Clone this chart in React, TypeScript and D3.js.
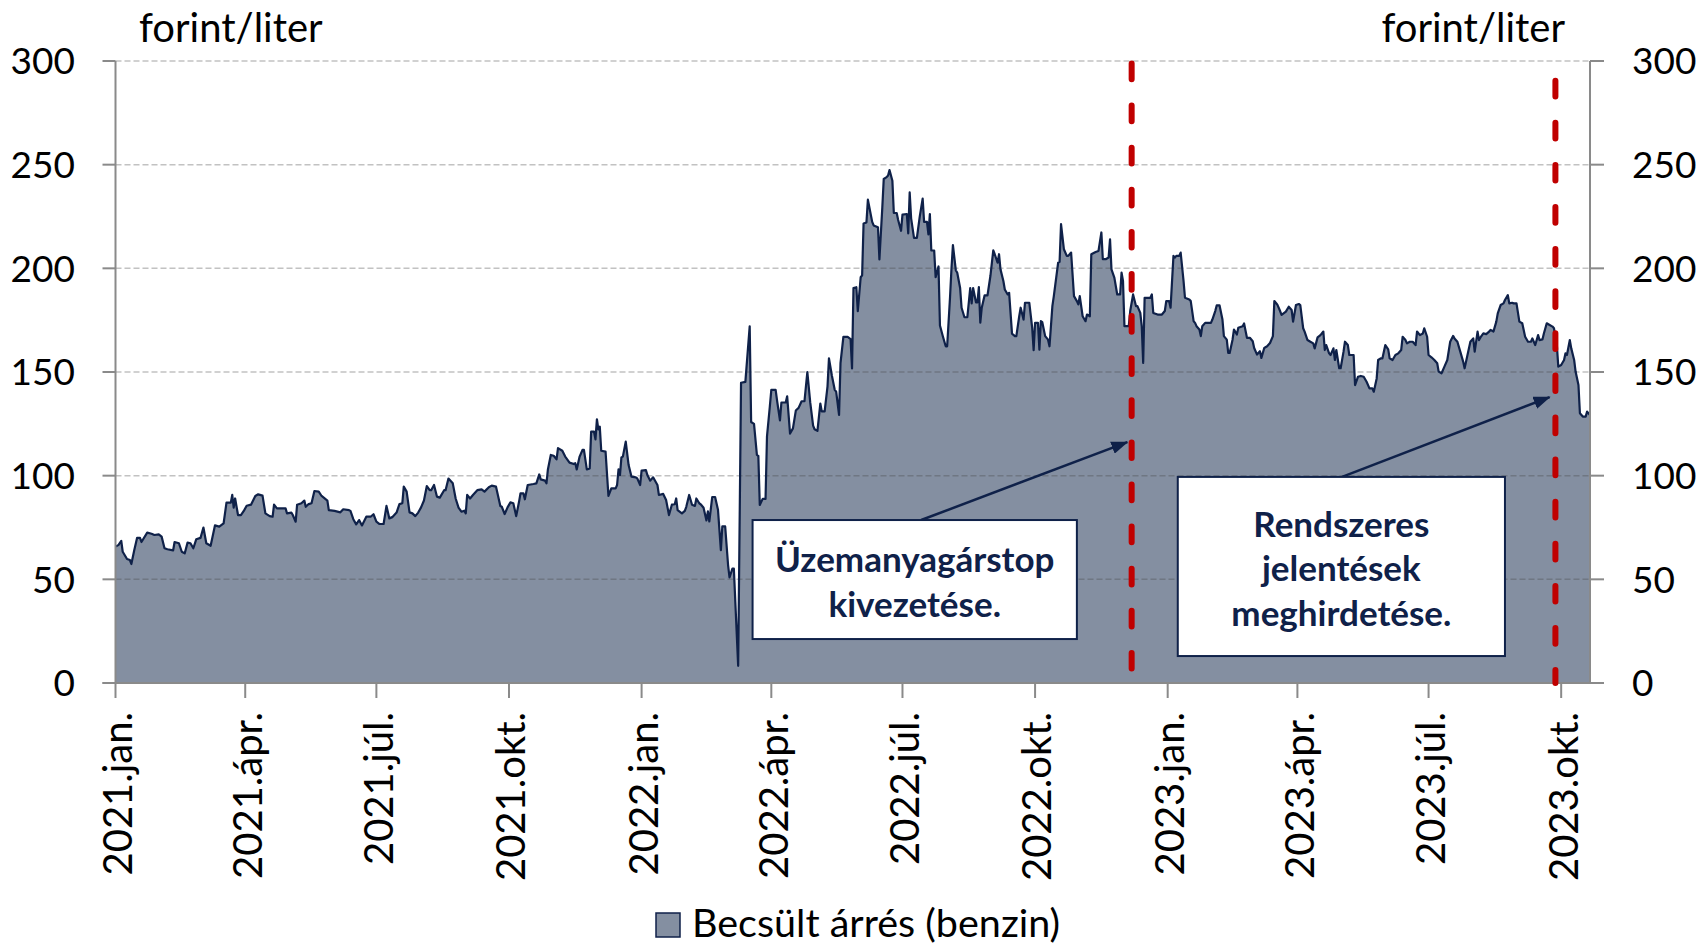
import { useEffect, useRef } from "react";
import * as d3 from "d3";

// days counted from 2021-01-01, estimated margin in forint/liter
const startDate = new Date(2021, 0, 1);
const lastDay = 1023;

const marginSeries: [number, number][] = [
  [0, 65.8], [2, 66.5], [4, 68.5], [5, 63.3], [8, 59.8], [10, 59.3], [11, 57.4], [13, 64], [15, 70], [17, 70],
  [18, 68], [22, 72.5], [25, 72], [27, 71.4], [30, 71.7], [32, 70.6], [34, 65], [36, 64.5], [40, 64], [41, 68],
  [44, 67.4], [46, 63.3], [48, 62.5], [50, 67.7], [52, 67.4], [54, 65], [56, 69.3], [59, 70], [61, 75], [63, 67.4],
  [66, 66.2], [69, 76], [72, 75.4], [75, 77], [77, 87], [80, 87], [81, 90.7], [82, 84.6], [83, 89], [85, 81],
  [87, 81], [89, 83], [91, 85.5], [94, 86], [97, 90.2], [99, 91], [102, 90.4], [104, 81.8], [107, 80.5], [109, 80.2],
  [110, 86], [112, 84.2], [115, 84.2], [118, 84.2], [119, 81.8], [122, 82.2], [123, 81], [125, 77.8], [126, 86], [129, 86.7],
  [131, 88], [132, 85], [134, 86.3], [136, 86.7], [138, 92.6], [141, 92.3], [143, 90.2], [147, 88], [148, 83.4], [152, 83],
  [156, 82.3], [158, 83.8], [162, 83.4], [163, 83], [165, 79], [167, 76.5], [169, 78.6], [171, 76], [174, 80.2], [177, 80.2],
  [179, 81.4], [181, 77.8], [183, 76.7], [186, 76.7], [188, 85.4], [190, 79.4], [192, 80], [195, 82.2], [197, 86.3], [199, 86.7],
  [200, 94.7], [202, 92.3], [204, 82.3], [206, 81.8], [208, 80.5], [210, 82.2], [212, 84.7], [214, 88], [216, 95], [218, 93],
  [219, 93], [221, 95.5], [223, 89.9], [225, 89.4], [228, 93], [229, 93], [231, 98.6], [234, 96.3], [236, 89], [238, 84.6],
  [240, 82.6], [242, 83.1], [243, 81.8], [244, 90.7], [246, 89], [248, 90.7], [251, 93], [254, 93.4], [256, 92.3], [259, 94.4],
  [261, 95.2], [264, 94.7], [267, 85.4], [268, 85], [270, 81.5], [272, 84.7], [274, 87.1], [276, 86.7], [278, 80.5], [280, 87.5],
  [281, 91.5], [283, 91.5], [284, 88.6], [286, 95.5], [290, 96], [292, 96.3], [294, 100.6], [295, 98.2], [298, 97.6], [299, 96.3],
  [300, 103], [302, 110], [304, 109.6], [306, 107.9], [307, 113.3], [310, 112], [312, 109.2], [315, 106.3], [318, 105.6], [319, 106],
  [320, 103], [322, 109.2], [324, 112.4], [325, 112.4], [327, 103], [329, 103.5], [330, 121.2], [332, 121.2], [333, 117.5], [334, 127.2],
  [335, 122.3], [336, 123.6], [337, 112], [340, 111.6], [342, 90.2], [344, 93.9], [347, 93.9], [348, 95.5], [349, 103], [350, 100.3],
  [351, 108.8], [352, 109.2], [354, 116.4], [356, 105.1], [358, 99.5], [361, 99.2], [362, 98.7], [364, 95.5], [365, 102.4], [368, 102.7],
  [369, 100.3], [371, 97.6], [373, 99.2], [376, 95.5], [377, 90.7], [380, 91.2], [382, 88.3], [384, 81], [386, 86], [388, 86.2],
  [389, 89], [390, 83.4], [393, 81.8], [395, 83], [396, 85], [398, 90.7], [400, 86], [402, 85.4], [403, 89], [405, 86.7],
  [406, 86.2], [408, 84.5], [410, 78.4], [411, 82.8], [412, 77.9], [414, 89.7], [416, 89.7], [418, 83.6], [420, 64.1], [421, 75.5],
  [423, 75.5], [425, 56.9], [426, 50.9], [428, 55.2], [429, 55.2], [432, 8.3], [434, 144.8], [437, 145.2], [440, 172], [441, 125.9],
  [443, 125], [445, 110], [446, 109.5], [447, 85.9], [449, 88.8], [451, 88.8], [452, 119], [454, 133.6], [455, 141.4], [458, 141.4],
  [459, 136.2], [461, 126.7], [462, 135.3], [465, 135.3], [466, 138.3], [468, 120.3], [470, 122.8], [472, 131.4], [474, 132.8], [476, 135.9],
  [478, 135.9], [480, 150], [482, 135.3], [484, 124.1], [485, 122.4], [487, 121.6], [489, 134.8], [490, 131], [492, 131], [494, 143.1],
  [495, 156.6], [497, 148.3], [499, 141.4], [500, 140.5], [502, 129.3], [503, 154.3], [505, 166.9], [508, 166.9], [510, 165.9], [511, 151.7],
  [512, 190.5], [514, 190.9], [515, 179.3], [517, 195.7], [518, 196.6], [519, 221.6], [521, 222.1], [522, 233.1], [525, 222.4], [526, 220.7],
  [529, 219.8], [530, 204.3], [532, 229.3], [533, 243.1], [535, 244], [536, 244.8], [537, 247.4], [539, 242.2], [540, 226.7], [542, 226.7],
  [543, 223.3], [545, 218.1], [546, 225.9], [549, 226.2], [550, 216.9], [551, 236.6], [552, 224.1], [554, 214.7], [556, 214.7], [558, 225],
  [560, 233.6], [561, 222.4], [563, 222.4], [564, 216.4], [565, 226.2], [566, 208.6], [568, 208.6], [569, 195.7], [571, 200.9], [572, 172.4],
  [574, 167.2], [576, 162.4], [577, 162.4], [579, 186.2], [580, 200], [581, 211.2], [583, 199.1], [584, 197.9], [586, 190.5], [587, 181],
  [589, 176.4], [591, 176.4], [593, 190.5], [594, 183.1], [595, 190.5], [597, 183.6], [598, 183.6], [599, 191], [600, 173.8], [601, 181],
  [603, 187], [605, 187], [607, 196.3], [609, 208.7], [610, 206.8], [612, 202.7], [613, 206.8], [614, 199.5], [616, 193.9], [617, 189.8],
  [619, 187.4], [620, 188.2], [622, 168.5], [624, 167.3], [625, 167.3], [627, 176.9], [628, 181], [630, 175.3], [631, 183.4], [634, 183.4],
  [636, 171.3], [637, 160.5], [638, 173.7], [640, 173.7], [641, 160.8], [642, 174.5], [643, 174], [645, 167.3], [647, 165.6], [648, 162.4],
  [650, 181.8], [651, 186.6], [654, 202.7], [655, 203.1], [656, 221.3], [658, 209.2], [660, 206], [661, 206], [663, 207.6], [665, 186.6],
  [667, 184.2], [668, 182.6], [669, 186.6], [671, 176.9], [673, 174.5], [674, 177.7], [676, 176.9], [677, 206.8], [680, 207.9], [682, 208.4],
  [684, 217.3], [685, 204.4], [687, 204.4], [689, 205.2], [690, 214], [691, 199.5], [693, 195.5], [695, 187.4], [697, 187.4], [698, 197.9],
  [699, 193.9], [700, 172.1], [702, 172.1], [703, 172.1], [704, 179.4], [706, 187.4], [708, 181.8], [709, 181.8], [711, 178.5], [712, 172.1],
  [713, 154.4], [714, 185.8], [716, 185.8], [718, 185.8], [719, 187.4], [720, 178.5], [723, 177.7], [726, 177.7], [728, 179.4], [729, 184.2],
  [731, 184.2], [732, 181], [734, 206], [735, 205.2], [736, 206], [738, 206], [739, 207.6], [741, 193.9], [742, 185.8], [745, 185],
  [746, 184.2], [748, 174.5], [749, 173.7], [750, 172.1], [752, 170.5], [753, 167.3], [754, 172.1], [756, 173.7], [758, 173.7], [760, 173.7],
  [761, 175.3], [763, 179.4], [764, 182.1], [766, 182.1], [768, 175.3], [769, 167.3], [771, 165.6], [772, 159.2], [773, 159.2], [775, 165.6],
  [776, 170.5], [778, 168.1], [779, 171.3], [782, 172.1], [783, 173.4], [785, 166.5], [787, 166.5], [789, 164.8], [790, 161.6], [792, 158.4],
  [794, 160], [795, 156.8], [797, 161.6], [799, 162.4], [801, 164], [803, 167.3], [804, 184.2], [806, 182.6], [808, 179.4], [809, 177.5],
  [812, 179.1], [814, 181.5], [816, 179.9], [817, 174.3], [819, 182.3], [821, 182.8], [822, 182.3], [824, 171.1], [825, 169.5], [827, 165.4],
  [829, 164.6], [831, 163.8], [832, 161.4], [834, 166.7], [836, 167.8], [838, 169.5], [839, 160.6], [840, 163], [842, 159], [843, 158.2],
  [845, 161.4], [846, 155.8], [847, 160.6], [849, 151.8], [850, 151.8], [852, 159.8], [853, 164.6], [855, 163], [856, 158.2], [859, 158.2],
  [860, 143.7], [862, 147.7], [864, 148.1], [866, 147.7], [868, 145.3], [870, 142.1], [872, 142.1], [873, 140.5], [875, 146.9], [876, 155.8],
  [878, 156.6], [879, 156.6], [881, 163], [883, 160.9], [884, 156.6], [886, 155.8], [888, 158.2], [890, 159], [892, 160.6], [893, 167],
  [895, 165.4], [896, 163.8], [898, 164.6], [900, 164.6], [902, 163], [903, 169.5], [905, 167.8], [907, 168.6], [908, 171.1], [910, 167],
  [911, 158.2], [913, 157.1], [915, 155.8], [917, 154.2], [918, 150.2], [920, 149.4], [922, 152.6], [924, 155.8], [926, 164.6], [928, 167.4],
  [929, 166.2], [931, 164.6], [933, 159.8], [935, 155], [936, 151.8], [938, 158.2], [940, 164.6], [942, 166.2], [943, 159.8], [945, 169.5],
  [946, 165.4], [947, 166.7], [949, 168.6], [951, 168.3], [953, 169.5], [954, 170.3], [956, 169.5], [958, 174.3], [959, 178.3], [961, 182.3],
  [963, 183.1], [964, 184.7], [966, 187.1], [967, 183.1], [969, 183.4], [970, 183.1], [972, 183.1], [974, 174.3], [976, 173.5], [978, 167],
  [980, 164.6], [982, 164.6], [983, 166.2], [985, 163], [987, 167.8], [988, 165.4], [990, 165.7], [991, 168.6], [993, 173.5], [995, 172.7],
  [997, 171.9], [998, 171.1], [1000, 163], [1001, 152.6], [1003, 153.4], [1005, 155.8], [1006, 159], [1007, 158.2], [1009, 165.4], [1010, 161.4],
  [1012, 155.8], [1013, 150.2], [1015, 143.7], [1016, 130.1], [1018, 128.5], [1020, 128.5], [1021, 130.9], [1023, 129.3],
];

const yTicks = [0, 50, 100, 150, 200, 250, 300];
const xTickDates = [
  "2021-01-01", "2021-04-01", "2021-07-01", "2021-10-01",
  "2022-01-01", "2022-04-01", "2022-07-01", "2022-10-01",
  "2023-01-01", "2023-04-01", "2023-07-01", "2023-10-01",
];
const xTickLabels = [
  "2021.jan.", "2021.ápr.", "2021.júl.", "2021.okt.",
  "2022.jan.", "2022.ápr.", "2022.júl.", "2022.okt.",
  "2023.jan.", "2023.ápr.", "2023.júl.", "2023.okt.",
];

// red dashed event markers: day and top value
const eventDays = [705, 999];
const eventTops = [298.8, 290.5];

const unitLabel = "forint/liter";
const legendLabel = "Becsült árrés (benzin)";

// annotation boxes in data space: [day from, day to, value top, value bottom]
const noteBoxes = [
  { lines: ["Üzemanyagárstop", "kivezetése."], box: [442.3, 667.9, 78.6, 21.2], from: [559.6, 78.6], to: [702.5, 116.2] },
  { lines: ["Rendszeres", "jelentések", "meghirdetése."], box: [737.9, 964.8, 99.4, 13], from: [851.7, 99.4], to: [995.4, 137.9] },
];

const FONT = "Lato, 'Open Sans', sans-serif";
const NAVY = "#0f2149";
const FILL = "#848fa1";

function App() {
  const svgRef = useRef<SVGSVGElement>(null);

  useEffect(() => {
    const width = 1700;
    const height = 944;
    const left = 115.5;
    const right = 1590;
    const top = 61;
    const bottom = 683;

    const day = (d: number) => d3.timeDay.offset(startDate, d);

    const svg = d3.select(svgRef.current);
    svg.selectAll("*").remove();
    svg.attr("width", width).attr("height", height).attr("viewBox", `0 0 ${width} ${height}`);

    const x = d3.scaleTime().domain([startDate, day(lastDay)]).range([left, right]);
    const y = d3.scaleLinear().domain([0, 300]).range([bottom, top]);

    const defs = svg.append("defs");
    defs
      .append("marker")
      .attr("id", "arrowhead")
      .attr("viewBox", "0 0 16 12")
      .attr("refX", 15)
      .attr("refY", 6)
      .attr("markerWidth", 17)
      .attr("markerHeight", 13)
      .attr("markerUnits", "userSpaceOnUse")
      .attr("orient", "auto")
      .append("path")
      .attr("d", "M0,0 L16,6 L0,12 Z")
      .attr("fill", NAVY);

    // area + line
    const area = d3
      .area<[number, number]>()
      .x((d) => x(day(d[0])))
      .y0(y(0))
      .y1((d) => y(d[1]));
    const line = d3
      .line<[number, number]>()
      .x((d) => x(day(d[0])))
      .y((d) => y(d[1]));

    svg.append("path").datum(marginSeries).attr("d", area).attr("fill", FILL);

    // gridlines (over the area)
    svg
      .append("g")
      .selectAll("line")
      .data(yTicks.filter((t) => t > 0))
      .join("line")
      .attr("x1", left)
      .attr("x2", right)
      .attr("y1", (d) => y(d))
      .attr("y2", (d) => y(d))
      .attr("stroke", "rgba(70,70,70,0.33)")
      .attr("stroke-width", 1.5)
      .attr("stroke-dasharray", "6 3");

    svg
      .append("path")
      .datum(marginSeries)
      .attr("d", line)
      .attr("fill", "none")
      .attr("stroke", NAVY)
      .attr("stroke-width", 2.2)
      .attr("stroke-linejoin", "round");

    // axes
    const axisColor = "#8a8a8a";
    const axes = svg.append("g").attr("stroke", axisColor).attr("stroke-width", 2);
    axes.append("line").attr("x1", left).attr("x2", left).attr("y1", top).attr("y2", bottom);
    axes.append("line").attr("x1", right).attr("x2", right).attr("y1", top).attr("y2", bottom);
    axes.append("line").attr("x1", left - 13).attr("x2", right + 14).attr("y1", bottom).attr("y2", bottom);
    axes
      .selectAll(".lt")
      .data(yTicks)
      .join("line")
      .attr("x1", left - 13)
      .attr("x2", left)
      .attr("y1", (d) => y(d))
      .attr("y2", (d) => y(d));
    axes
      .selectAll(".rt")
      .data(yTicks)
      .join("line")
      .attr("x1", right)
      .attr("x2", right + 14)
      .attr("y1", (d) => y(d))
      .attr("y2", (d) => y(d));
    axes
      .selectAll(".xt")
      .data(xTickDates)
      .join("line")
      .attr("x1", (d) => x(new Date(d + "T00:00:00")))
      .attr("x2", (d) => x(new Date(d + "T00:00:00")))
      .attr("y1", bottom)
      .attr("y2", bottom + 15);

    // y tick labels
    const labelStyle = (sel: any, size: number) =>
      sel.attr("font-family", FONT).attr("font-size", size).attr("fill", "#000");

    labelStyle(
      svg
        .append("g")
        .selectAll("text")
        .data(yTicks)
        .join("text")
        .attr("x", 75)
        .attr("y", (d) => y(d))
        .attr("dy", "0.36em")
        .attr("text-anchor", "end")
        .text((d) => d),
      37
    );
    labelStyle(
      svg
        .append("g")
        .selectAll("text")
        .data(yTicks)
        .join("text")
        .attr("x", 1632)
        .attr("y", (d) => y(d))
        .attr("dy", "0.36em")
        .attr("text-anchor", "start")
        .text((d) => d),
      37
    );

    // x tick labels, rotated
    labelStyle(
      svg
        .append("g")
        .selectAll("text")
        .data(xTickDates)
        .join("text")
        .attr("transform", (d) => `translate(${x(new Date(d + "T00:00:00")) + 2},${bottom + 29}) rotate(-90)`)
        .attr("dy", "0.36em")
        .attr("text-anchor", "end")
        .text((d, i) => xTickLabels[i]),
      40
    );

    // unit labels
    labelStyle(svg.append("text").attr("x", 139).attr("y", 42).text(unitLabel), 40);
    labelStyle(svg.append("text").attr("x", 1565).attr("y", 42).attr("text-anchor", "end").text(unitLabel), 40);

    // event markers
    svg
      .append("g")
      .selectAll("line")
      .data(eventDays)
      .join("line")
      .attr("x1", (d) => x(day(d)))
      .attr("x2", (d) => x(day(d)))
      .attr("y1", (d, i) => y(eventTops[i]))
      .attr("y2", bottom)
      .attr("stroke", "#c00000")
      .attr("stroke-width", 6)
      .attr("stroke-linecap", "round")
      .attr("stroke-dasharray", "15.7 26.4");

    // annotations
    noteBoxes.forEach((n) => {
      const [d0, d1, v0, v1] = n.box;
      const bx0 = x(day(d0));
      const bx1 = x(day(d1));
      const by0 = y(v0);
      const by1 = y(v1);
      svg
        .append("line")
        .attr("x1", x(day(n.from[0])))
        .attr("y1", y(n.from[1]))
        .attr("x2", x(day(n.to[0])))
        .attr("y2", y(n.to[1]))
        .attr("stroke", NAVY)
        .attr("stroke-width", 2.5)
        .attr("marker-end", "url(#arrowhead)");
      svg
        .append("rect")
        .attr("x", bx0)
        .attr("y", by0)
        .attr("width", bx1 - bx0)
        .attr("height", by1 - by0)
        .attr("fill", "#fff")
        .attr("stroke", NAVY)
        .attr("stroke-width", 2);
      const lh = 44.5;
      const cy = (by0 + by1) / 2;
      const firstBase = cy - ((n.lines.length - 1) * lh) / 2 + 15;
      n.lines.forEach((t, i) => {
        svg
          .append("text")
          .attr("x", (bx0 + bx1) / 2)
          .attr("y", firstBase + i * lh)
          .attr("text-anchor", "middle")
          .attr("font-family", FONT)
          .attr("font-weight", 700)
          .attr("font-size", 35)
          .attr("fill", NAVY)
          .text(t);
      });
    });

    // legend
    svg
      .append("rect")
      .attr("x", 656)
      .attr("y", 913)
      .attr("width", 24)
      .attr("height", 24)
      .attr("fill", FILL)
      .attr("stroke", NAVY)
      .attr("stroke-width", 1.5);
    labelStyle(svg.append("text").attr("x", 692).attr("y", 937).text(legendLabel), 39.5);
  }, []);

  return (
    <div style={{ position: "absolute", left: 0, top: 0, width: 1700, height: 944, background: "#fff" }}>
      <svg ref={svgRef} style={{ display: "block" }}></svg>
    </div>
  );
}

export default App;
